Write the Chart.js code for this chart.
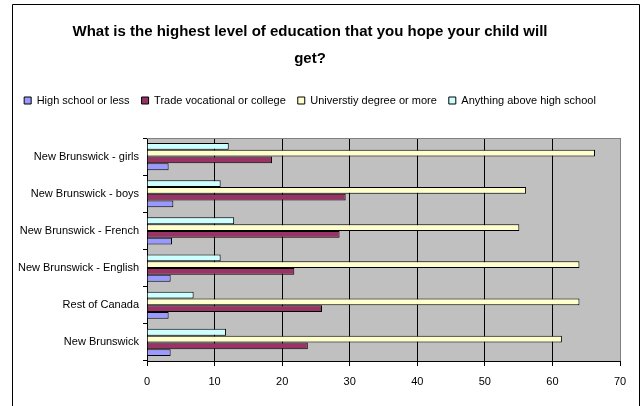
<!DOCTYPE html>
<html lang="en">
  <head>
    <meta charset="UTF-8" />
    <title>Education hopes</title>
    <script src="https://cdn.jsdelivr.net/npm/chart.js@4.4.1/dist/chart.umd.min.js"></script>
    <style>
      html, body { margin: 0; padding: 0; background: #fff; }
      #wrap { width: 644px; height: 406px; }
    </style>
  </head>
  <body>
    <div id="wrap"><canvas id="chart" width="644" height="406"></canvas></div>
    <script>
      const categories = [
        "New Brunswick - girls",
        "New Brunswick - boys",
        "New Brunswick - French",
        "New Brunswick - English",
        "Rest of Canada",
        "New Brunswick",
      ];
      const highSchoolOrLess = [3.2, 3.9, 3.7, 3.5, 3.2, 3.5];
      const tradeOrCollege = [18.5, 29.4, 28.5, 21.8, 25.9, 23.8];
      const universityOrMore = [66.3, 56.1, 55.1, 64.0, 64.0, 61.4];
      const anythingAboveHigh = [12.1, 10.9, 12.9, 10.9, 6.9, 11.7];
      const xTicks = [0, 10, 20, 30, 40, 50, 60, 70];

      const font = '"Liberation Sans Narrow", "Arial Narrow", "Liberation Sans", Arial, sans-serif';

      const framePlugin = {
        id: "frame",
        afterInit(chart) {
          // leave extra room between the legend and the plot
          const lg = chart.legend;
          if (lg) {
            const fit = lg.fit;
            lg.fit = function () {
              fit.call(this);
              this.height += 22;
            };
          }
        },
        beforeDraw(chart) {
          const c = chart.ctx;
          const a = chart.chartArea;
          c.save();
          c.fillStyle = "#c0c0c0";
          c.fillRect(a.left, a.top, a.right - a.left, a.bottom - a.top);
          c.strokeStyle = "#000";
          c.lineWidth = 1;
          c.beginPath();
          c.moveTo(12.5, 410);
          c.lineTo(12.5, 4.5);
          c.lineTo(639.5, 4.5);
          c.lineTo(639.5, 410);
          c.stroke();
          c.restore();
        },
        afterDraw(chart) {
          const c = chart.ctx;
          const a = chart.chartArea;
          c.save();
          c.strokeStyle = "#808080";
          c.lineWidth = 1;
          c.beginPath();
          c.moveTo(a.left, Math.round(a.top) + 0.5);
          c.lineTo(a.right, Math.round(a.top) + 0.5);
          c.stroke();
          c.restore();
        },
      };

      const ctx = document.getElementById("chart").getContext("2d");

      new Chart(ctx, {
        type: "bar",
        data: {
          labels: categories,
          datasets: [
            {
              label: "Anything above high school",
              data: anythingAboveHigh,
              backgroundColor: "#ccffff",
            },
            {
              label: "Universtiy degree or more",
              data: universityOrMore,
              backgroundColor: "#ffffcc",
            },
            {
              label: "Trade vocational or college",
              data: tradeOrCollege,
              backgroundColor: "#993366",
            },
            {
              label: "High school or less",
              data: highSchoolOrLess,
              backgroundColor: "#9999ff",
            },
          ],
        },
        options: {
          indexAxis: "y",
          responsive: false,
          animation: false,
          datasets: {
            bar: {
              borderColor: "#000",
              borderWidth: 1,
              barPercentage: 1,
              categoryPercentage: 0.73,
            },
          },
          layout: { padding: { left: 0, right: 24, top: 18, bottom: 0 } },
          plugins: {
            title: {
              display: true,
              text: [
                "What is the highest level of education that you hope your child will",
                "get?",
              ],
              color: "#000",
              font: { family: font, size: 15, weight: "bold", lineHeight: 1.8 },
              padding: { top: 0, bottom: 11 },
            },
            legend: {
              reverse: true,
              labels: {
                color: "#000",
                font: { family: font, size: 11 },
                boxWidth: 7,
                boxHeight: 7,
                padding: 12,
              },
            },
            tooltip: { enabled: false },
          },
          scales: {
            x: {
              min: 0,
              max: 70,
              afterBuildTicks(scale) {
                scale.ticks = xTicks.map((v) => ({ value: v }));
              },
              afterFit(scale) {
                scale.height = 45;
              },
              border: { display: true, color: "#000", width: 1 },
              grid: {
                color: (c) => (c.tick && c.tick.value === 70 ? "#808080" : "#000"),
                tickColor: "#000",
                tickLength: 5,
              },
              ticks: {
                color: "#000",
                font: { family: font, size: 11 },
                padding: 9,
              },
            },
            y: {
              afterFit(scale) {
                scale.width = 147;
              },
              border: { display: true, color: "#000", width: 1 },
              grid: {
                drawOnChartArea: false,
                color: "#000",
                tickLength: 4,
              },
              ticks: {
                color: "#000",
                font: { family: font, size: 11 },
                padding: 4,
              },
            },
          },
        },
        plugins: [framePlugin],
      });
    </script>
  </body>
</html>
